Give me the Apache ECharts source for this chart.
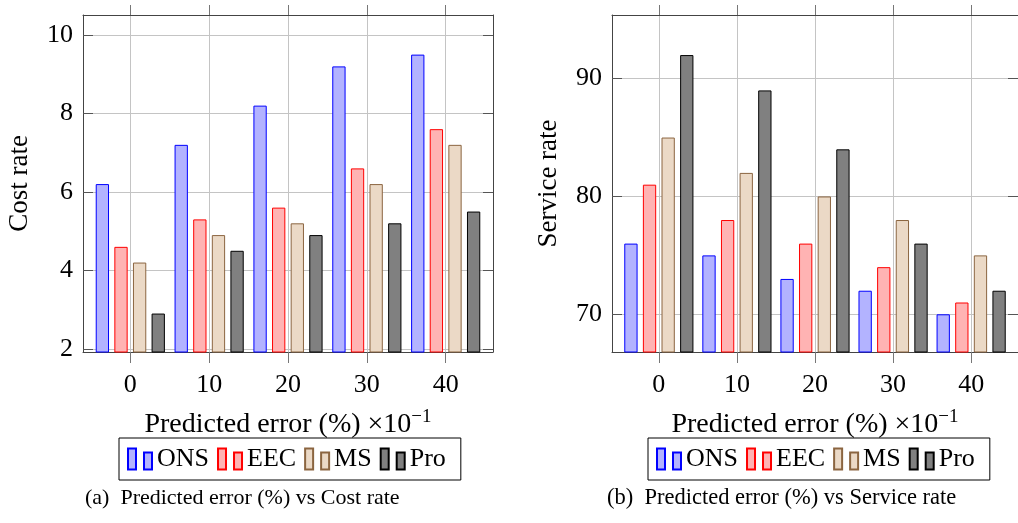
<!DOCTYPE html>
<html><head><meta charset="utf-8">
<script src="https://cdn.jsdelivr.net/npm/echarts@6/dist/echarts.min.js"></script>
<style>html,body{margin:0;padding:0;background:#fff}#c{width:1018px;height:523px}</style>
</head><body><div id="c"></div>
<script>
const errors = [0, 10, 20, 30, 40];
const seriesNames = ['ONS', 'EEC', 'MS', 'Pro'];
const costONS = [6.2, 7.2, 8.2, 9.2, 9.5];
const costEEC = [4.6, 5.3, 5.6, 6.6, 7.6];
const costMS  = [4.2, 4.9, 5.2, 6.2, 7.2];
const costPro = [2.9, 4.5, 4.9, 5.2, 5.5];
const servONS = [76, 75, 73, 72, 70];
const servEEC = [81, 78, 76, 74, 71];
const servMS  = [85, 82, 80, 78, 75];
const servPro = [92, 89, 84, 76, 72];
const costTicks = [2, 4, 6, 8, 10];
const servTicks = [70, 80, 90];

const FONT = 'Liberation Serif';
const fills = ['#b3b3ff', '#ffb3b3', '#ebd9c6', '#808080'];
const borders = ['#0000ff', '#ff0000', '#8b6540', '#000000'];
const frameColor = '#444';
const gridColor = '#c4c4c4';

const chart = echarts.init(document.getElementById('c'), null, {renderer: 'canvas'});

function xAxes(gridIndex) {
  return [{
    type: 'value', gridIndex, position: 'bottom', min: -6, max: 46,
    name: '{a|Predicted error (%) ×10}{s|−1}',
    nameLocation: 'middle', nameGap: 56,
    nameTextStyle: {
      rich: {
        a: {fontFamily: FONT, fontSize: 28, color: '#000', verticalAlign: 'bottom'},
        s: {fontFamily: FONT, fontSize: 19, color: '#000', verticalAlign: 'bottom', padding: [0, 0, 12, 0]}
      }
    },
    axisLine: {show: true, onZero: false, lineStyle: {color: frameColor, width: 1}},
    axisTick: {show: true, inside: false, length: 11, customValues: errors, lineStyle: {color: '#777'}},
    axisLabel: {customValues: errors, margin: 20, fontFamily: FONT, fontSize: 26, color: '#000'},
    splitLine: {show: true, lineStyle: {color: gridColor, width: 1}}
  }, {
    type: 'value', gridIndex, position: 'top', min: -6, max: 46,
    axisLine: {show: true, onZero: false, lineStyle: {color: frameColor, width: 1}},
    axisTick: {show: true, inside: false, length: 10, customValues: errors, lineStyle: {color: '#777'}},
    axisLabel: {show: false, customValues: errors},
    splitLine: {show: false}
  }];
}

function yAxes(gridIndex, min, max, ticks, name) {
  return [{
    type: 'value', gridIndex, position: 'left', min, max,
    name, nameLocation: 'middle', nameGap: 50, nameRotate: 90,
    nameTextStyle: {fontFamily: FONT, fontSize: 27, color: '#000'},
    axisLine: {show: true, onZero: false, lineStyle: {color: frameColor, width: 1}},
    axisTick: {show: true, inside: true, length: 10, customValues: ticks, lineStyle: {color: '#555'}},
    axisLabel: {customValues: ticks, margin: 10, fontFamily: FONT, fontSize: 26, color: '#000'},
    splitLine: {show: true, lineStyle: {color: gridColor, width: 1}}
  }, {
    type: 'value', gridIndex, position: 'right', min, max,
    axisLine: {show: true, onZero: false, lineStyle: {color: frameColor, width: 1}},
    axisTick: {show: true, inside: true, length: 10, customValues: ticks, lineStyle: {color: '#555'}},
    axisLabel: {show: false, customValues: ticks},
    splitLine: {show: false}
  }];
}

function barSeries(values, i, xIdx, yIdx) {
  return {
    type: 'bar', name: seriesNames[i], xAxisIndex: xIdx, yAxisIndex: yIdx,
    data: errors.map((e, k) => [e, values[k]]),
    barWidth: 13.3, barGap: '40%',
    itemStyle: {color: fills[i], borderColor: borders[i], borderWidth: 1},
    emphasis: {disabled: true}, animation: false
  };
}

const iconPath = 'path://M0,0L8,0L8,21L0,21Z M16,4L24,4L24,21L16,21Z';
function legend(left) {
  return {
    left, top: 438, orient: 'horizontal',
    data: seriesNames.map(n => ({name: n, icon: iconPath})),
    itemWidth: 24, itemHeight: 21, itemGap: 8,
    padding: [8, 15, 8, 8],
    borderColor: '#000', borderWidth: 1, borderRadius: 0,
    textStyle: {fontFamily: FONT, fontSize: 26, color: '#000', padding: [0, 0, 0, 0]},
    selectedMode: false
  };
}

const costSets = [costONS, costEEC, costMS, costPro];
const servSets = [servONS, servEEC, servMS, servPro];

chart.setOption({
  animation: false,
  grid: [
    {left: 83, top: 15, width: 410, height: 337},
    {left: 612, top: 15, width: 409, height: 337}
  ],
  xAxis: [...xAxes(0), ...xAxes(1)],
  yAxis: [...yAxes(0, 1.92, 10.51, costTicks, 'Cost rate'), ...yAxes(1, 66.8, 95.4, servTicks, 'Service rate')],
  legend: [legend(119), legend(648)],
  title: [
    {text: '(a)\u2002Predicted error (%) vs Cost rate', left: 85, top: 487,
     textStyle: {fontFamily: FONT, fontSize: 22, fontWeight: 'normal', color: '#000'}, padding: 0},
    {text: '(b)\u2002Predicted error (%) vs Service rate', left: 607, top: 487,
     textStyle: {fontFamily: FONT, fontSize: 22.5, fontWeight: 'normal', color: '#000'}, padding: 0}
  ],
  series: [
    ...costSets.map((v, i) => barSeries(v, i, 0, 0)),
    ...servSets.map((v, i) => barSeries(v, i, 2, 2))
  ]
});
</script></body></html>
